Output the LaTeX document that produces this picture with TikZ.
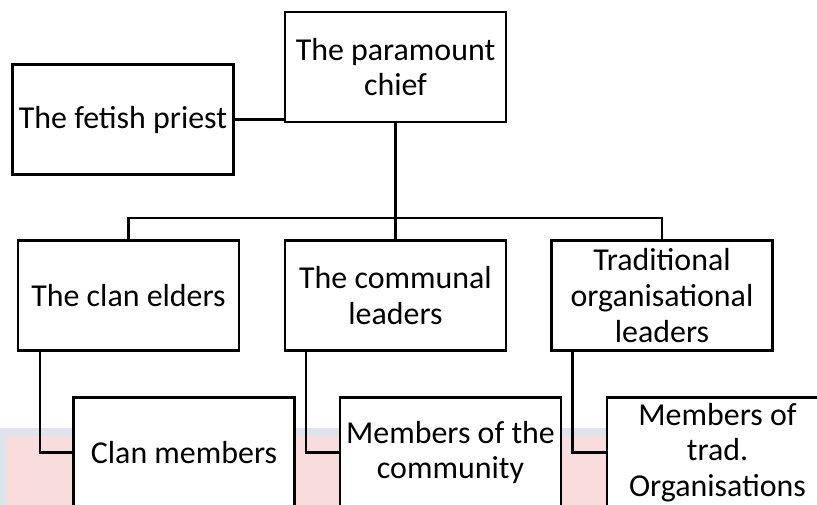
\documentclass[tikz,border=0pt]{standalone}
\usepackage{fontspec}
\setmainfont{Carlito}
\definecolor{bandgrey}{HTML}{DFE3EC}
\definecolor{bandpink}{HTML}{F9DDDD}
\begin{document}
\begin{tikzpicture}[box/.style={draw, fill=white, line width=1.7pt, minimum width=5.525cm, minimum height=2.75cm, align=center, font=\fontsize{22.7}{25.4}\selectfont}, link/.style={line width=1.7pt}]
    \clip (0,0) rectangle (20.425,-12.625);
    % faint band behind the lower row
    \fill[bandgrey] (0,-10.7) rectangle (20.425,-12.625);
    \fill[bandpink] (0.175,-10.9) rectangle (20.425,-12.625);
    \node[box] (chief) at (9.8875,-1.675){The paramount\\chief};
    \node[box] (priest) at (3.075,-2.9875){The fetish priest};
    \node[box] (elders) at (3.2125,-7.3875){The clan elders};
    \node[box] (communal) at (9.8875,-7.3875){The communal\\leaders};
    \node[box] (tradlead) at (16.55,-7.3875){Traditional\\organisational\\leaders};
    \node[box] (clanmem) at (4.6,-11.3125){Clan members};
    \node[box] (commem) at (11.2625,-11.3125){Members of the\\community};
    \node[box] (tradmem) at (17.9375,-11.3125){Members of\\trad.\\Organisations};
    \coordinate (bus) at (0,-5.45);
    \draw[link] (priest.east) -- (priest.east -| chief.west);
    \draw[link] (chief.south) -- (communal.north);
    \draw[link] (elders.north) -- (elders.north |- bus) -| (tradlead.north);
%    lower row hangs off the left side of each leader box
    \draw[link] ([xshift=0.575cm]elders.south west) |- (clanmem.west);
    \draw[link] ([xshift=0.55cm]communal.south west) |- (commem.west);
    \draw[link] ([xshift=0.55cm]tradlead.south west) |- (tradmem.west);
\end{tikzpicture}
\end{document}
